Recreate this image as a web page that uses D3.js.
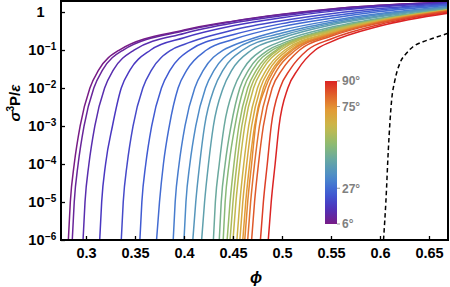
<!DOCTYPE html>
<html>
<head>
<meta charset="utf-8">
<script src="https://cdnjs.cloudflare.com/ajax/libs/d3/7.8.5/d3.min.js"></script>
<style>
  body { margin: 0; background: #fff; }
  svg { display: block; font-family: "Liberation Sans", Arial, sans-serif; }
</style>
</head>
<body>
<div id="chart"></div>
<script>
// tilt angle of each curve, degrees (sets colour)
let angles = [6, 9.5, 13, 16.5, 20, 23.5, 27, 30.5, 34, 37.5, 41, 44.5, 48,
  51.5, 55, 58.5, 62, 65.5, 69, 72.5, 76, 79.5, 83, 86.5, 90];

// pressure levels of the steep part, and phi where each curve reaches them
let lowLevels = [1e-6, 1e-5, 1e-4, 1e-3, 1e-2, 0.03, 0.1];
let lowPhi = [
  [0.282, 0.284, 0.288, 0.294, 0.304, 0.313, 0.334],
  [0.286, 0.288, 0.292, 0.298, 0.308, 0.317, 0.338],
  [0.297, 0.299, 0.303, 0.309, 0.319, 0.328, 0.349],
  [0.314, 0.316, 0.320, 0.327, 0.336, 0.345, 0.366],
  [0.336, 0.338, 0.342, 0.348, 0.358, 0.367, 0.387],
  [0.355, 0.357, 0.361, 0.367, 0.377, 0.386, 0.406],
  [0.372, 0.375, 0.379, 0.385, 0.394, 0.403, 0.423],
  [0.389, 0.391, 0.395, 0.401, 0.411, 0.420, 0.440],
  [0.400, 0.402, 0.406, 0.412, 0.422, 0.431, 0.451],
  [0.409, 0.412, 0.416, 0.421, 0.431, 0.440, 0.460],
  [0.418, 0.421, 0.425, 0.430, 0.440, 0.449, 0.469],
  [0.430, 0.432, 0.436, 0.441, 0.451, 0.460, 0.480],
  [0.436, 0.438, 0.442, 0.448, 0.457, 0.466, 0.486],
  [0.440, 0.442, 0.446, 0.452, 0.461, 0.470, 0.490],
  [0.444, 0.447, 0.451, 0.456, 0.465, 0.474, 0.494],
  [0.447, 0.450, 0.454, 0.459, 0.468, 0.477, 0.496],
  [0.450, 0.453, 0.457, 0.462, 0.471, 0.480, 0.499],
  [0.454, 0.457, 0.461, 0.466, 0.475, 0.484, 0.503],
  [0.457, 0.460, 0.464, 0.469, 0.478, 0.487, 0.506],
  [0.460, 0.463, 0.467, 0.472, 0.481, 0.490, 0.509],
  [0.462, 0.465, 0.469, 0.473, 0.483, 0.492, 0.511],
  [0.465, 0.468, 0.472, 0.477, 0.486, 0.495, 0.514],
  [0.469, 0.472, 0.476, 0.481, 0.490, 0.500, 0.518],
  [0.478, 0.481, 0.485, 0.489, 0.498, 0.508, 0.526],
  [0.486, 0.489, 0.493, 0.497, 0.506, 0.516, 0.534]
];

// flat part: pressure at fixed phi values (null = curve not there yet)
let upperGrid = [0.40, 0.45, 0.50, 0.55, 0.60, 0.67];
let upperP = [
  [0.336, 0.576, 0.870, 1.20, 1.50, 1.83],
  [0.320, 0.562, 0.855, 1.19, 1.50, 1.82],
  [0.273, 0.511, 0.794, 1.13, 1.45, 1.79],
  [0.210, 0.433, 0.704, 1.04, 1.37, 1.74],
  [0.140, 0.336, 0.590, 0.902, 1.24, 1.66],
  [null, 0.251, 0.495, 0.785, 1.13, 1.57],
  [null, 0.189, 0.413, 0.687, 1.03, 1.50],
  [null, 0.131, 0.332, 0.594, 0.918, 1.41],
  [null, null, 0.280, 0.539, 0.855, 1.36],
  [null, null, 0.242, 0.495, 0.804, 1.31],
  [null, null, 0.208, 0.455, 0.752, 1.26],
  [null, null, 0.171, 0.396, 0.687, 1.20],
  [null, null, 0.147, 0.368, 0.655, 1.17],
  [null, null, 0.132, 0.353, 0.638, 1.16],
  [null, null, null, 0.335, 0.620, 1.14],
  [null, null, null, 0.326, 0.616, 1.135],
  [null, null, null, 0.313, 0.601, 1.13],
  [null, null, null, 0.293, 0.583, 1.11],
  [null, null, null, 0.280, 0.573, 1.095],
  [null, null, null, 0.267, 0.559, 1.085],
  [null, null, null, 0.259, 0.552, 1.08],
  [null, null, null, 0.247, 0.536, 1.075],
  [null, null, null, 0.230, 0.516, 1.06],
  [null, null, null, 0.195, 0.472, 1.00],
  [null, null, null, 0.164, 0.428, 0.94]
];

// dashed reference curve
let dashPhi = [0.6036, 0.6061, 0.6085, 0.6119, 0.6153, 0.6204, 0.6272, 0.6337, 0.6439, 0.6541, 0.6694];
let dashP = [1e-6, 1.13e-5, 2.34e-4, 4.83e-3, 0.0163, 0.0455, 0.0834, 0.122, 0.165, 0.203, 0.275];

let xTicks = [0.3, 0.35, 0.4, 0.45, 0.5, 0.55, 0.6, 0.65];
let yExps = [-6, -5, -4, -3, -2, -1, 0];
let barTicks = [6, 27, 75, 90];

const width = 450, height = 287;
const margin = {top: 1, right: 2, bottom: 47, left: 61};

let x = d3.scaleLinear().domain([0.2745, 0.6694]).range([margin.left, width - margin.right]);
let y = d3.scaleLog().domain([1e-6, 1.95]).range([height - margin.bottom, margin.top]);

let rainbow = d3.scaleLinear()
  .domain([0, 0.12, 0.22, 0.32, 0.44, 0.56, 0.68, 0.8, 0.9, 1])
  .range(["#781c86", "#4a35c0", "#3f5fd4", "#4a88cc", "#64a6a6", "#8fbc70", "#c8b94a", "#e39a36", "#e0622b", "#db2424"])
  .interpolate(d3.interpolateRgb);
let angleColor = a => rainbow((a - 6) / 84);

const svg = d3.select("#chart").append("svg")
  .attr("width", width).attr("height", height);

svg.append("defs").append("clipPath").attr("id", "plot")
  .append("rect")
  .attr("x", margin.left).attr("y", margin.top)
  .attr("width", width - margin.left - margin.right)
  .attr("height", height - margin.top - margin.bottom);

let line = d3.line()
  .x(d => x(d[0]))
  .y(d => y(d[1]))
  .curve(d3.curveMonotoneX);

let curves = angles.map((a, i) => {
  let pts = lowLevels.map((p, j) => [lowPhi[i][j], p]);
  upperGrid.forEach((g, j) => {
    if (upperP[i][j] != null) pts.push([g, upperP[i][j]]);
  });
  return {angle: a, pts: pts};
});

let plot = svg.append("g").attr("clip-path", "url(#plot)");

plot.selectAll("path.curve")
  .data(curves)
  .join("path")
  .attr("class", "curve")
  .attr("fill", "none")
  .attr("stroke", d => angleColor(d.angle))
  .attr("stroke-width", 1.5)
  .attr("d", d => line(d.pts));

plot.append("path")
  .datum(dashPhi.map((p, i) => [p, dashP[i]]))
  .attr("fill", "none")
  .attr("stroke", "#000")
  .attr("stroke-width", 1.5)
  .attr("stroke-dasharray", "4.5,3")
  .attr("d", line);

// colour bar
let bar = {x: 325, w: 12};
let barY = d3.scaleLinear().domain([6, 90]).range([224, 81]);
let grad = svg.select("defs").append("linearGradient")
  .attr("id", "rainbow").attr("x1", 0).attr("y1", 1).attr("x2", 0).attr("y2", 0);
grad.selectAll("stop")
  .data(d3.range(0, 1.0001, 0.05))
  .join("stop")
  .attr("offset", d => d)
  .attr("stop-color", d => rainbow(d));
svg.append("rect")
  .attr("x", bar.x).attr("y", barY(90))
  .attr("width", bar.w).attr("height", barY(6) - barY(90))
  .attr("fill", "url(#rainbow)");
let bt = svg.append("g").selectAll("g").data(barTicks).join("g")
  .attr("transform", d => `translate(${bar.x + bar.w},${barY(d)})`);
bt.append("line").attr("x1", 0).attr("x2", 3).attr("stroke", "#999").attr("stroke-width", 1);
bt.append("text")
  .attr("x", 5).attr("dy", "0.36em")
  .attr("fill", "#808080")
  .attr("font-size", 12).attr("font-weight", "bold")
  .text(d => d + "°");

// frame
svg.append("rect")
  .attr("x", margin.left).attr("y", margin.top)
  .attr("width", width - margin.left - margin.right)
  .attr("height", height - margin.top - margin.bottom)
  .attr("fill", "none").attr("stroke", "#000").attr("stroke-width", 2);

// x axis
let xAxis = svg.append("g")
  .attr("transform", `translate(0,${height - margin.bottom})`)
  .call(d3.axisBottom(x).tickValues(xTicks).tickSize(-4).tickFormat(d3.format("")));
xAxis.select(".domain").remove();
xAxis.selectAll(".tick line").attr("stroke-width", 1.3);
xAxis.selectAll(".tick text")
  .attr("y", 8).attr("dy", "0.71em")
  .attr("font-size", 14.5).attr("font-weight", "bold")
  .attr("font-family", "Liberation Sans, Arial, sans-serif").attr("fill", "#000");

// y axis
let yAxis = svg.append("g")
  .attr("transform", `translate(${margin.left},0)`)
  .call(d3.axisLeft(y).tickValues(yExps.map(e => Math.pow(10, e))).tickSize(-4).tickFormat(""));
yAxis.select(".domain").remove();
yAxis.selectAll(".tick line").attr("stroke-width", 1.3);
let yl = svg.append("g").selectAll("g").data(yExps).join("g")
  .attr("transform", d => `translate(0,${y(Math.pow(10, d))})`);
yl.append("text")
  .attr("x", 44.5).attr("y", 5)
  .attr("text-anchor", "end")
  .attr("font-size", 14.5).attr("font-weight", "bold")
  .text(d => d === 0 ? "1" : "10");
yl.filter(d => d !== 0).append("text")
  .attr("x", 45).attr("y", -0.5)
  .attr("font-size", 10).attr("font-weight", "bold")
  .text(d => "\u2212" + (-d));

// axis titles
svg.append("text")
  .attr("x", 256).attr("y", 283)
  .attr("text-anchor", "middle")
  .attr("font-size", 16).attr("font-weight", "bold").attr("font-style", "italic")
  .text("\u03d5");

let yt = svg.append("text")
  .attr("transform", "translate(20,103) rotate(-90)")
  .attr("text-anchor", "middle")
  .attr("font-size", 15).attr("font-weight", "bold");
yt.append("tspan").attr("font-style", "italic").text("\u03c3");
yt.append("tspan").attr("font-size", 10).attr("dy", -6).text("3");
yt.append("tspan").attr("dy", 6).text("P/");
yt.append("tspan").attr("font-style", "italic").text("\u03b5");
</script>
</body>
</html>
